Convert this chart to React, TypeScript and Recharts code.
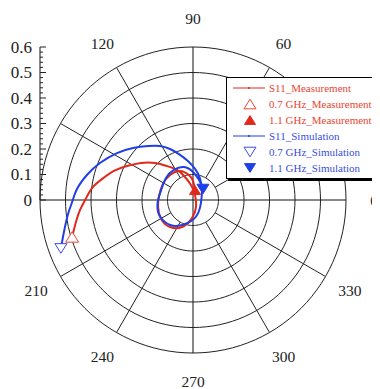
import React from "react";
import { ScatterChart, Scatter, XAxis, YAxis, ReferenceLine, ReferenceDot } from "recharts";

const measRe = [-0.474, -0.459, -0.443, -0.423, -0.396, -0.357, -0.31, -0.259, -0.204, -0.149, -0.102, -0.063, -0.035, -0.008, 0.008, 0.012, -0.004, -0.043, -0.09, -0.125, -0.137, -0.133, -0.118, -0.09, -0.051, -0.016, 0.0, 0.008];
const measIm = [-0.145, -0.086, -0.039, 0.0, 0.047, 0.082, 0.114, 0.133, 0.145, 0.145, 0.133, 0.118, 0.094, 0.059, 0.02, -0.027, -0.071, -0.106, -0.106, -0.075, -0.027, 0.016, 0.063, 0.098, 0.114, 0.098, 0.075, 0.039];
const simRe = [-0.518, -0.506, -0.49, -0.474, -0.455, -0.416, -0.365, -0.298, -0.235, -0.176, -0.129, -0.09, -0.055, -0.02, 0.008, 0.027, 0.035, 0.031, 0.016, -0.02, -0.067, -0.11, -0.137, -0.137, -0.125, -0.106, -0.075, -0.035, 0.0, 0.024, 0.039];
const simIm = [-0.19, -0.125, -0.055, -0.008, 0.043, 0.098, 0.145, 0.184, 0.204, 0.212, 0.212, 0.2, 0.18, 0.153, 0.122, 0.086, 0.039, -0.012, -0.059, -0.09, -0.102, -0.086, -0.047, 0.0, 0.039, 0.086, 0.118, 0.129, 0.11, 0.078, 0.043];

const radiusTicks = [0, 0.1, 0.2, 0.3, 0.4, 0.5, 0.6];
const minorStep = 0.02;
const spokeAngles = [30, 60, 120, 150, 210, 240, 300, 330];
const angleLabels = [0, 60, 90, 120, 210, 240, 270, 300, 330];

const RED = "#e2281c";
const BLUE = "#1f3fe6";
const RED_TXT = "#e9452f";
const BLUE_TXT = "#3a4de2";
const GRID = "#222";
const FONT = "Liberation Serif, Times New Roman, Times, serif";

const RMAX = 0.6;
const LABEL_R = 0.71;

const rad = (a: number) => (a * Math.PI) / 180;
const toPts = (re: number[], im: number[]) => re.map((x, i) => ({ x, y: im[i] }));

const measPts = toPts(measRe, measIm);
const simPts = toPts(simRe, simIm);

const ring = (r: number) =>
  Array.from({ length: 121 }, (_, i) => ({ x: r * Math.cos(rad(i * 3)), y: r * Math.sin(rad(i * 3)) }));

const minorTicks = Array.from({ length: Math.round(RMAX / minorStep) + 1 }, (_, i) => +(i * minorStep).toFixed(2));

function Tri({ cx, cy, down, filled, color, w = 13 }: any) {
  const h = w * 0.8;
  const pts = down
    ? `${cx - w / 2},${cy - h / 2} ${cx + w / 2},${cy - h / 2} ${cx},${cy + h / 2}`
    : `${cx - w / 2},${cy + h / 2} ${cx + w / 2},${cy + h / 2} ${cx},${cy - h / 2}`;
  return <polygon points={pts} fill={filled ? color : "#fff"} stroke={color} strokeWidth={1} />;
}

function RadiusTick(props: any) {
  const { x, y, payload } = props;
  const v = payload.value as number;
  const major = Math.abs(v * 10 - Math.round(v * 10)) < 1e-6;
  return (
    <g>
      <line x1={x} x2={x + (major ? 6 : 3)} y1={y} y2={y} stroke="#222" />
      {major && (
        <text x={x - 8} y={y} textAnchor="end" dominantBaseline="central" fontSize={17} fill="#222" style={{ fontFamily: FONT }}>
          {v === 0 ? "0" : v.toFixed(1)}
        </text>
      )}
    </g>
  );
}

const legendItems = [
  { label: "S11_Measurement", color: RED, text: RED_TXT, kind: "line" },
  { label: "0.7 GHz_Measurement", color: RED_TXT, text: RED_TXT, kind: "up-open" },
  { label: "1.1 GHz_Measurement", color: RED, text: RED_TXT, kind: "up-fill" },
  { label: "S11_Simulation", color: BLUE, text: BLUE_TXT, kind: "line" },
  { label: "0.7 GHz_Simulation", color: BLUE_TXT, text: BLUE_TXT, kind: "down-open" },
  { label: "1.1 GHz_Simulation", color: BLUE, text: BLUE_TXT, kind: "down-fill" },
];

function LegendBox() {
  return (
    <div
      style={{
        position: "absolute", left: 218, top: 69, width: 149, height: 98,
        border: "1px solid #000", boxShadow: "2px 2px 0 #000", background: "#fff",
        fontFamily: FONT, fontSize: 11, paddingTop: 2, boxSizing: "content-box",
      }}
    >
      {legendItems.map((it) => (
        <div key={it.label} style={{ display: "flex", alignItems: "center", height: 16 }}>
          <svg width={42} height={16} style={{ flex: "none" }}>
            {it.kind === "line" ? (
              <g>
                <line x1={6} x2={38} y1={8} y2={8} stroke={it.color} strokeWidth={1} />
                <circle cx={22} cy={8} r={1} fill={it.color} />
              </g>
            ) : (
              <Tri cx={23} cy={8} down={it.kind.startsWith("down")} filled={it.kind.endsWith("fill")} color={it.color} w={it.kind.endsWith("fill") ? 11 : 12} />
            )}
          </svg>
          <span style={{ color: it.text, whiteSpace: "nowrap" }}>{it.label}</span>
        </div>
      ))}
    </div>
  );
}

const hidden = () => <g />;

export default function App() {
  return (
    <div style={{ position: "relative", width: 372, height: 381, background: "#fff", fontFamily: FONT }}>
      <ScatterChart width={372} height={381} margin={{ top: 39, right: 34, bottom: 36, left: 0 }}>
        <XAxis type="number" dataKey="x" domain={[-RMAX, RMAX]} hide />
        <YAxis
          type="number"
          dataKey="y"
          domain={[-RMAX, RMAX]}
          width={32}
          ticks={minorTicks}
          interval={0}
          axisLine={false}
          tickLine={false}
          tickSize={0}
          tickMargin={0}
          tick={<RadiusTick />}
        />
        {radiusTicks.slice(1).map((r) => (
          <Scatter key={"ring" + r} data={ring(r)} line={{ stroke: GRID, strokeWidth: 1 }} shape={hidden} isAnimationActive={false} />
        ))}
        {spokeAngles.map((a) => (
          <ReferenceLine
            key={"sp" + a}
            segment={[
              { x: 0.1 * Math.cos(rad(a)), y: 0.1 * Math.sin(rad(a)) },
              { x: RMAX * Math.cos(rad(a)), y: RMAX * Math.sin(rad(a)) },
            ]}
            stroke={GRID}
            ifOverflow="visible"
          />
        ))}
        <ReferenceLine x={0} stroke="#111" />
        <ReferenceLine y={0} stroke="#111" />
        <ReferenceLine segment={[{ x: -RMAX, y: 0 }, { x: -RMAX, y: RMAX }]} stroke="#111" ifOverflow="visible" />
        {angleLabels.map((a) => (
          <ReferenceDot
            key={"al" + a}
            x={LABEL_R * Math.cos(rad(a))}
            y={LABEL_R * Math.sin(rad(a))}
            r={1}
            ifOverflow="visible"
            shape={(p: any) => (
              <text x={p.cx} y={p.cy} textAnchor="middle" dominantBaseline="central" fontSize={15.5} fill="#222" style={{ fontFamily: FONT }}>
                {a}
              </text>
            )}
          />
        ))}
        <Scatter data={measPts} line={{ stroke: RED, strokeWidth: 2 }} lineJointType="natural" shape={hidden} isAnimationActive={false} />
        <Scatter data={simPts} line={{ stroke: BLUE, strokeWidth: 2 }} lineJointType="natural" shape={hidden} isAnimationActive={false} />
        <Scatter data={[measPts[0]]} shape={(p: any) => <Tri cx={p.cx} cy={p.cy} color={RED_TXT} />} isAnimationActive={false} />
        <Scatter data={[measPts[measPts.length - 1]]} shape={(p: any) => <Tri cx={p.cx} cy={p.cy} filled color={RED} w={11} />} isAnimationActive={false} />
        <Scatter data={[simPts[0]]} shape={(p: any) => <Tri cx={p.cx} cy={p.cy} down color={BLUE_TXT} w={12} />} isAnimationActive={false} />
        <Scatter data={[simPts[simPts.length - 1]]} shape={(p: any) => <Tri cx={p.cx} cy={p.cy} down filled color={BLUE} w={12} />} isAnimationActive={false} />
      </ScatterChart>
      <LegendBox />
    </div>
  );
}
